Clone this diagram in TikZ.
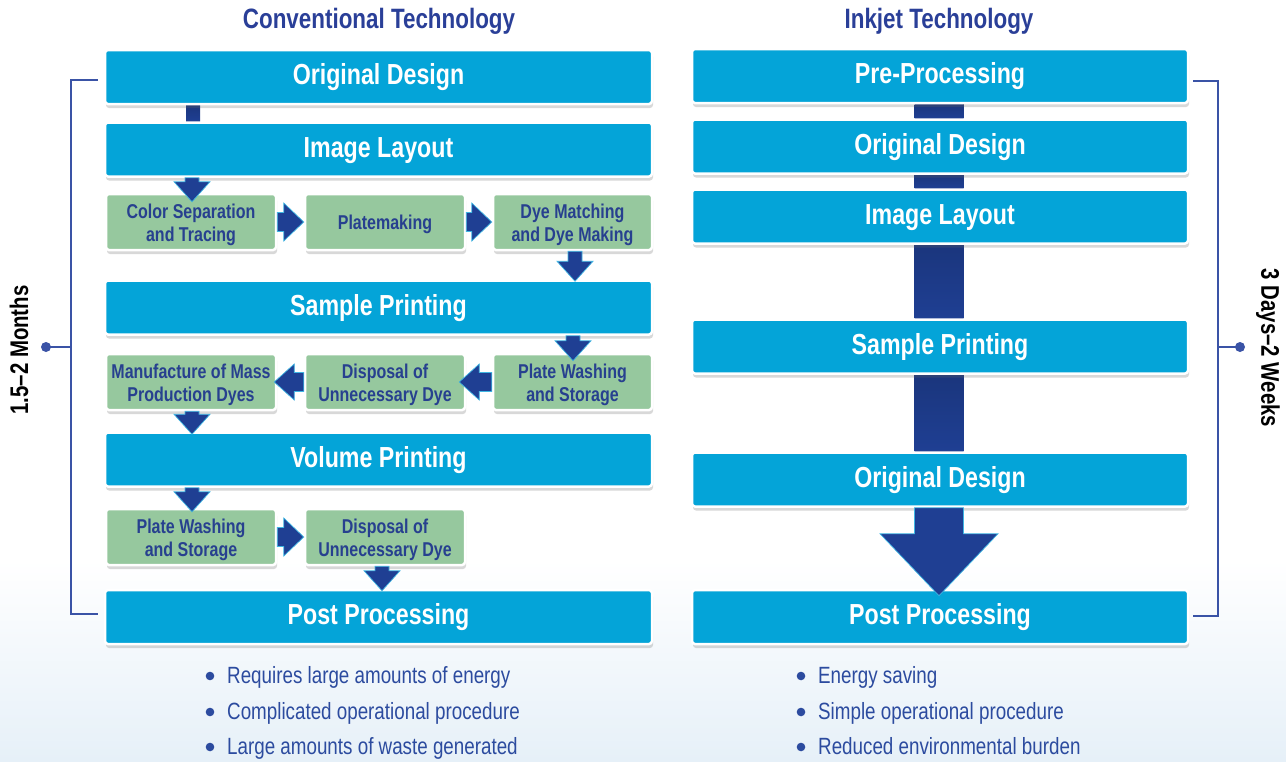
\documentclass[tikz,border=0pt]{standalone}
\usepackage{fontspec}
\setmainfont{Liberation Sans}[FakeStretch=0.8]
\usetikzlibrary{calc,shadows}
\definecolor{boxblue}{HTML}{04A4D8}
\definecolor{boxgreen}{HTML}{96C89E}
\definecolor{arrowblue}{HTML}{1F3F93}
\definecolor{titleblue}{HTML}{2A3F98}
\definecolor{greentext}{HTML}{27408F}
\definecolor{bullettext}{HTML}{2C4B9F}
\definecolor{bracketblue}{HTML}{3A53A6}
\definecolor{bgblue}{HTML}{E6F0F8}
\definecolor{edgecyan}{HTML}{3FB6E3}
\pgfdeclarelayer{bg}\pgfdeclarelayer{mid}\pgfsetlayers{bg,mid,main}
% text of a green box, lowered a little without changing its reported size
\newcommand\gtxt[2]{\raisebox{-3pt}[\height][\depth]{\begin{tabular}{@{}c@{}}#1\\#2\end{tabular}}}
\newcommand\gone[1]{\raisebox{-2pt}[\height][\depth]{#1}}
% block arrows computed from node anchors
\newcommand\blockdown[6]{%
 \filldraw[blockarrow] let \p1=(#1), \p2=(#2) in
 (#3pt-#4pt,\y1) -- (#3pt+#4pt,\y1) -- (#3pt+#4pt,\y2+#6pt) -- (#3pt+#5pt,\y2+#6pt)
 -- (#3pt,\y2) -- (#3pt-#5pt,\y2+#6pt) -- (#3pt-#4pt,\y2+#6pt) -- cycle;}
\newcommand\blockright[5]{%
 \filldraw[blockarrow] let \p1=(#1), \p2=(#2) in
 (\x1,\y1+#3pt) -- (\x2-#5pt,\y1+#3pt) -- (\x2-#5pt,\y1+#4pt) -- (\x2,\y1)
 -- (\x2-#5pt,\y1-#4pt) -- (\x2-#5pt,\y1-#3pt) -- (\x1,\y1-#3pt) -- cycle;}
\newcommand\blockleft[5]{%
 \filldraw[blockarrow] let \p1=(#1), \p2=(#2) in
 (\x1,\y1+#3pt) -- (\x2+#5pt,\y1+#3pt) -- (\x2+#5pt,\y1+#4pt) -- (\x2,\y1)
 -- (\x2+#5pt,\y1-#4pt) -- (\x2+#5pt,\y1-#3pt) -- (\x1,\y1-#3pt) -- cycle;}
\newcommand\blockbar[4]{%
 \fill[top color=arrowblue!85!black, bottom color=arrowblue] let \p1=(#1), \p2=(#2) in
 (#3pt-#4pt,\y1) rectangle (#3pt+#4pt,\y2);}
\begin{document}
\begin{tikzpicture}[x=1pt,y=-1pt,
  boxbase/.style={rectangle, draw=white, line width=2.5pt, rounded corners=3pt, inner sep=2pt,
    drop shadow={shadow xshift=1pt, shadow yshift=-4pt, opacity=0.25, fill=black!60}},
  bluebox/.style={boxbase, fill=boxblue, text=white, minimum height=54pt,
    font=\fontsize{29}{32}\selectfont\bfseries, text height=21pt, text depth=6pt},
  leftbox/.style={bluebox, minimum width=547pt},
  rightbox/.style={bluebox, minimum width=496pt},
  greenbox/.style={boxbase, fill=boxgreen, text=greentext, minimum height=56pt,
    font=\fontsize{20}{23}\selectfont\bfseries},
  blockarrow/.style={fill=arrowblue, draw=edgecyan, line width=0.7pt, line join=miter},
  title/.style={text=titleblue, font=\fontsize{28}{30}\selectfont\bfseries},
  sidelabel/.style={text=black, font=\fontsize{25.5}{28}\selectfont\bfseries},
  bullettxt/.style={text=bullettext, anchor=base west, inner sep=0pt, font=\fontsize{23.5}{26}\selectfont},
  bracket/.style={draw=bracketblue, line width=1.3pt},
]
\useasboundingbox (0,0) rectangle (1286,761);
\begin{pgfonlayer}{bg}
  \fill[white] (0,0) rectangle (1286,761);
  \shade[top color=white, bottom color=bgblue] (0,560) rectangle (1286,761);
\end{pgfonlayer}

% titles
\node[title] (t1) at (379,21) {Conventional Technology};
\node[title] (t2) at (939,21) {Inkjet Technology};

% left column
\node[leftbox] (OD1) at (378.5,77) {Original Design};
\node[leftbox] (IL1) at (378.5,149.5) {Image Layout};
\node[greenbox, minimum width=170pt] (CS) at (191,222) {\gtxt{Color Separation}{and Tracing}};
\node[greenbox, minimum width=160pt] (PM) at (385,222) {\gone{Platemaking}};
\node[greenbox, minimum width=159pt] (DM) at (572.5,222) {\gtxt{Dye Matching}{and Dye Making}};
\node[leftbox] (SP1) at (378.5,307.5) {Sample Printing};
\node[greenbox, minimum width=159pt] (PW) at (572.5,382) {\gtxt{Plate Washing}{and Storage}};
\node[greenbox, minimum width=160pt] (DU) at (385,382) {\gtxt{Disposal of}{Unnecessary Dye}};
\node[greenbox, minimum width=170pt] (MM) at (191,382) {\gtxt{Manufacture of Mass}{Production Dyes}};
\node[leftbox] (VP) at (378.5,459.5) {Volume Printing};
\node[greenbox, minimum width=170pt] (PW2) at (191,537) {\gtxt{Plate Washing}{and Storage}};
\node[greenbox, minimum width=160pt] (DU2) at (385,537) {\gtxt{Disposal of}{Unnecessary Dye}};
\node[leftbox] (PP1) at (378.5,617) {Post Processing};

% right column
\node[rightbox] (PRE) at (940,76) {Pre-Processing};
\node[rightbox] (OD2) at (940,146.5) {Original Design};
\node[rightbox] (IL2) at (940,216.5) {Image Layout};
\node[rightbox] (SP2) at (940,346.5) {Sample Printing};
\node[rightbox] (OD3) at (940,479.5) {Original Design};
\node[rightbox] (PP2) at (940,617) {Post Processing};

% connector bars behind boxes
\begin{pgfonlayer}{mid}
  \blockbar{OD1.south}{IL1.north}{193}{7}
  \blockbar{PRE.south}{OD2.north}{939}{24.5}
  \blockbar{OD2.south}{IL2.north}{939}{24.5}
  \blockbar{IL2.south}{SP2.north}{939}{24.5}
  \blockbar{SP2.south}{OD3.north}{939}{24.5}
\end{pgfonlayer}

% block arrows, left column
\blockdown{IL1.south}{$(CS.north)+(0,9)$}{192}{7}{18}{20}
\blockright{CS.east}{PM.west}{9.5}{19}{20}
\blockright{PM.east}{DM.west}{9.5}{19}{20}
\blockdown{DM.south}{$(SP1.north)+(0,2)$}{575}{7}{18}{20}
\blockdown{SP1.south}{$(PW.north)+(0,8)$}{573}{7}{18}{20}
\blockleft{PW.west}{$(DU.east)+(-7,0)$}{9.5}{18}{20}
\blockleft{DU.west}{$(MM.east)+(-3,0)$}{9.5}{18}{20}
\blockdown{MM.south}{$(VP.north)+(0,3)$}{192}{7}{18}{20}
\blockdown{VP.south}{$(PW2.north)+(0,4)$}{192}{7}{18}{20}
\blockright{PW2.east}{DU2.west}{9.5}{19}{20}
\blockdown{DU2.south}{$(PP1.north)+(0,2)$}{382}{7}{18}{20}

% big arrow, right column
\blockdown{OD3.south}{$(PP2.north)+(0,7)$}{939}{24.5}{59}{62}

% left bracket
\coordinate (lt) at ($(OD1.west)+(-6,3)$);
\coordinate (lb) at ($(PP1.west)+(-6,-3)$);
\coordinate (lm) at (71,347);
\coordinate (ldot) at (46,347);
\draw[bracket] (lt) -| (lm) |- (lb);
\draw[bracket] (lm) -- (ldot);
\fill[bracketblue] (ldot) circle (5);
\node[sidelabel, rotate=90] (lmonths) at (19,350) {1.5–2 Months};

% right bracket
\coordinate (rt) at ($(PRE.east)+(4,5)$);
\coordinate (rb) at ($(PP2.east)+(4,-1)$);
\coordinate (rm) at (1218,347);
\coordinate (rdot) at (1240,347);
\draw[bracket] (rt) -| (rm) |- (rb);
\draw[bracket] (rm) -- (rdot);
\fill[bracketblue] (rdot) circle (5);
\node[sidelabel, rotate=-90] (rdays) at (1268,348) {3 Days–2 Weeks};

% bullet lists
\foreach \yy in {676,712,747}{\fill[bullettext] (210,\yy) circle (4.3);}
\foreach \yy in {676,712,747}{\fill[bullettext] (801,\yy) circle (4.3);}
\node[bullettxt] (b1) at (227,683) {Requires large amounts of energy};
\node[bullettxt] (b2) at (227,719) {Complicated operational procedure};
\node[bullettxt] (b3) at (227,754) {Large amounts of waste generated};
\node[bullettxt] (b4) at (818,683) {Energy saving};
\node[bullettxt] (b5) at (818,719) {Simple operational procedure};
\node[bullettxt] (b6) at (818,754) {Reduced environmental burden};
\end{tikzpicture}
\end{document}
